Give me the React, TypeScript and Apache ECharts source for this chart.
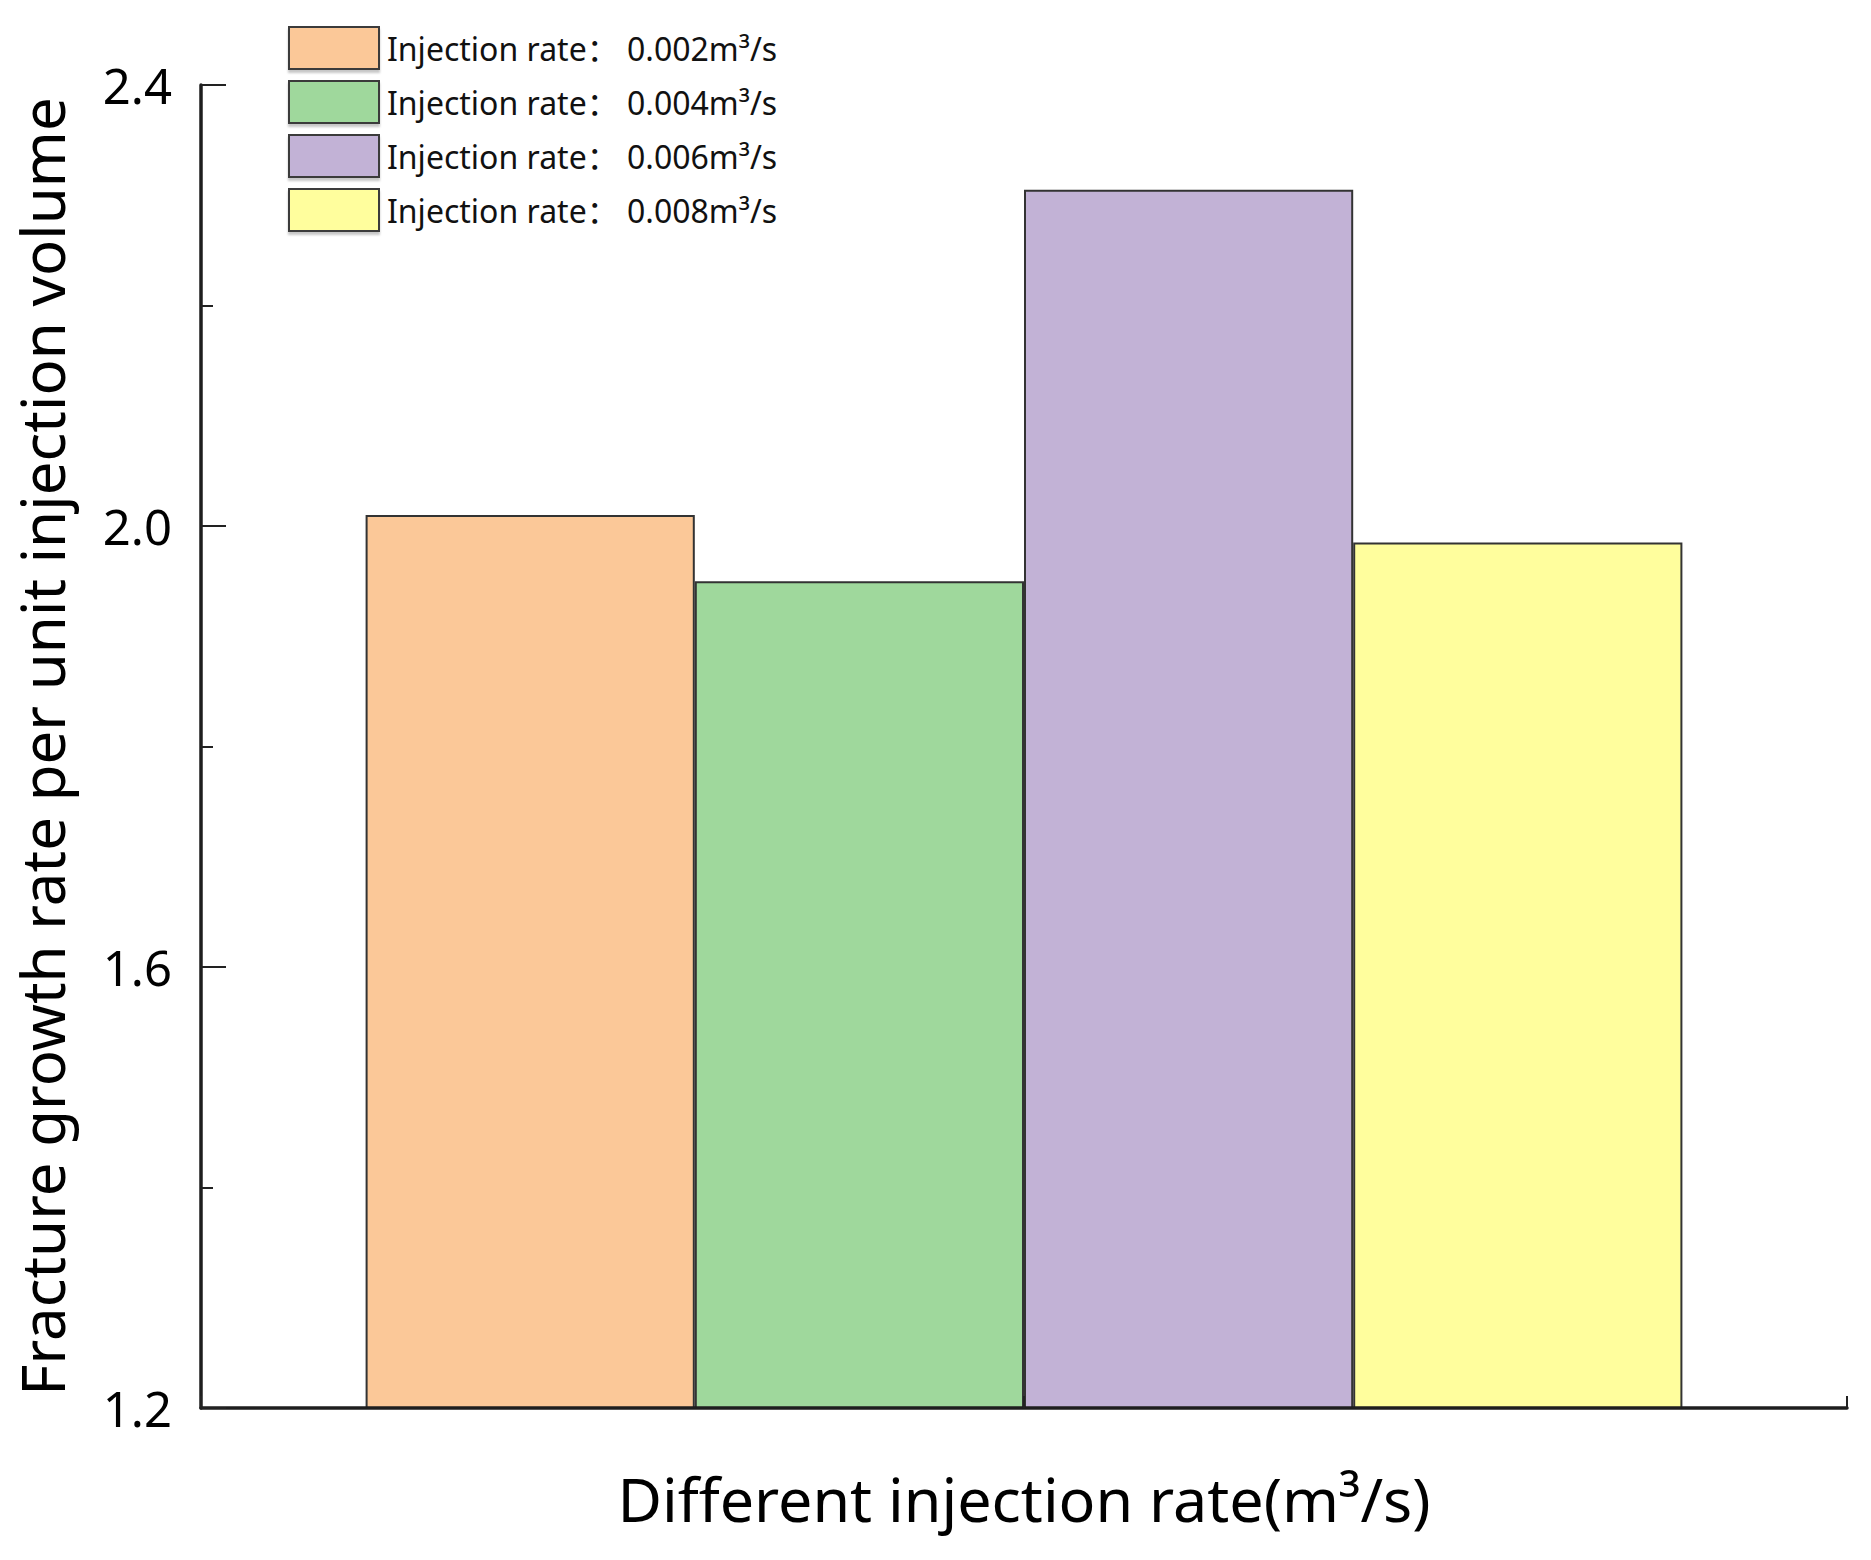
import React, { useEffect, useRef } from "react";
import * as echarts from "echarts";

// ---- data ----
const categories = ["Different injection rate"];
const seriesNames = [
  "Injection rate： 0.002m³/s",
  "Injection rate： 0.004m³/s",
  "Injection rate： 0.006m³/s",
  "Injection rate： 0.008m³/s",
];
const seriesValues = [2.01, 1.95, 2.305, 1.985];
const palette = ["#FBC898", "#9FD89C", "#C2B2D6", "#FFFE9D"];
const yTitle = "Fracture growth rate per unit injection volume";
const xTitle = "Different injection rate(m³/s)";
const yMin = 1.2;
const yMax = 2.4;
const yInterval = 0.4;

const FONT = "'Noto Sans', 'Noto Sans CJK SC', sans-serif";

export default function App() {
  const ref = useRef<HTMLDivElement>(null);

  useEffect(() => {
    document.body.style.margin = "0";
    document.body.style.overflow = "hidden";
    if (!ref.current) return;
    const chart = echarts.init(ref.current, undefined, { renderer: "svg" });

    const axisLineStyle = { color: "#1e1e1e", width: 3.5 };

    const option: any = {
      animation: false,
      backgroundColor: "#fff",
      grid: { left: 201, right: 24, top: 85, bottom: 152, containLabel: false },
      legend: {
        orient: "vertical",
        left: 283,
        top: 21,
        itemWidth: 90,
        itemHeight: 42,
        itemGap: 10,
        icon: "rect",
        data: seriesNames,
        textStyle: { fontSize: 32, color: "#111", fontFamily: FONT, padding: [0, 0, 0, 3] },
        itemStyle: {
          borderColor: "#3a3a3a",
          borderWidth: 2,
          shadowColor: "rgba(0,0,0,0.22)",
          shadowOffsetY: 3,
          shadowBlur: 2,
        },
      },
      xAxis: [
        {
          type: "value",
          min: 0,
          max: 2,
          interval: 1,
          position: "bottom",
          name: xTitle,
          nameLocation: "middle",
          nameGap: 60,
          nameTextStyle: { fontSize: 61, color: "#000", fontFamily: FONT },
          axisLine: { show: true, onZero: false, lineStyle: axisLineStyle },
          axisTick: { show: true, inside: true, length: 12, lineStyle: { color: "#222", width: 2 } },
          axisLabel: { show: false },
          splitLine: { show: false },
          z: 5,
        },
        {
          type: "category",
          data: categories,
          position: "bottom",
          show: false,
          axisLine: { show: false, onZero: false },
        },
      ],
      yAxis: {
        type: "value",
        min: yMin,
        max: yMax,
        interval: yInterval,
        name: yTitle,
        nameLocation: "middle",
        nameGap: 129,
        nameTextStyle: { fontSize: 60, color: "#000", fontFamily: FONT },
        axisLine: { show: true, lineStyle: axisLineStyle },
        axisTick: { show: true, inside: true, length: 25, lineStyle: { color: "#222", width: 2 } },
        minorTick: { show: true, splitNumber: 2, length: 12, lineStyle: { color: "#222", width: 2 } },
        axisLabel: {
          fontSize: 49,
          color: "#000",
          fontFamily: FONT,
          margin: 29,
          padding: [0, 0, 10, 0],
          formatter: (v: number) => v.toFixed(1),
        },
        splitLine: { show: false },
        z: 5,
      },
      series: seriesNames.map((name, i) => ({
        type: "bar",
        name,
        xAxisIndex: 1,
        data: [seriesValues[i]],
        barWidth: "20%",
        barGap: "0%",
        itemStyle: { color: palette[i], borderColor: "#333", borderWidth: 2 },
      })),
    };

    chart.setOption(option);
    return () => chart.dispose();
  }, []);

  return <div ref={ref} style={{ width: 1871, height: 1560 }} />;
}
